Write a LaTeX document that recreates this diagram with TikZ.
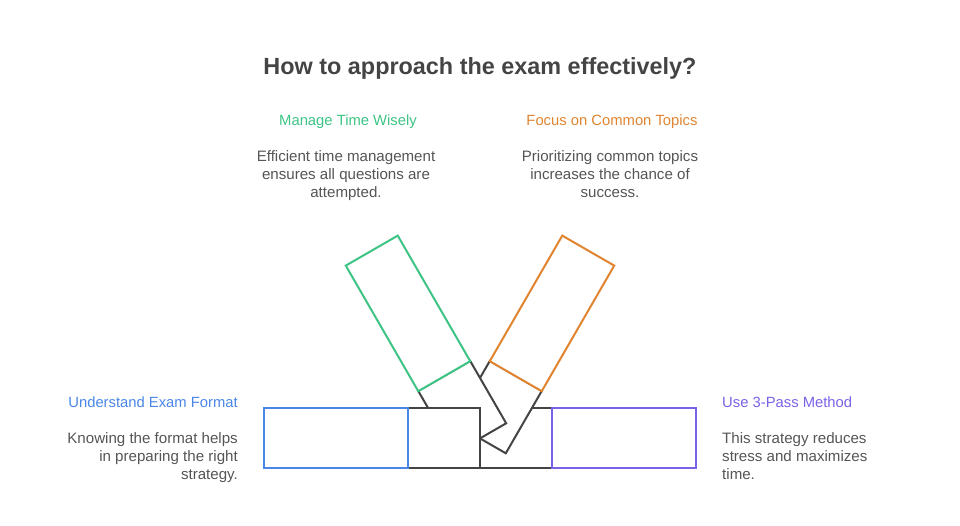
\documentclass[tikz,border=0pt]{standalone}
\usepackage{fontspec}
\setmainfont{Liberation Sans}
\definecolor{cgreen}{RGB}{61,196,132}
\definecolor{corange}{RGB}{224,132,48}
\definecolor{cblue}{RGB}{74,134,232}
\definecolor{cpurple}{RGB}{123,97,232}
\definecolor{cdark}{RGB}{68,68,68}
\definecolor{ctext}{RGB}{85,85,85}
\begin{document}
\begin{tikzpicture}[x=1pt,y=-1pt,
  box/.style={draw, fill=white, line width=2pt, inner sep=0pt, outer sep=0pt, rectangle},
  ttl/.style={font=\fontsize{14.8}{18}\selectfont, inner sep=0pt},
  desc/.style={font=\fontsize{15.1}{18}\selectfont, text=ctext, inner sep=0pt}]
\useasboundingbox (0,0) rectangle (960,525);
% title
\node[font=\bfseries\fontsize{23.4}{28}\selectfont, text=cdark, inner sep=0pt] (title) at (480,68) {How to approach the exam effectively?};
% boxes in stacking order
\node[box, draw=cdark, minimum width=72pt, minimum height=60pt] (rdark) at (516,438) {};
\node[box, draw=cdark, minimum width=72pt, minimum height=60pt, rotate=60] (odark) at (497.8,407.1) {};
\node[box, draw=corange, minimum width=145pt, minimum height=60pt, rotate=60] (obox) at (552,313.4) {};
\node[box, draw=cdark, minimum width=72pt, minimum height=60pt, rotate=-60] (gdark) at (462.2,407.1) {};
\node[box, draw=cgreen, minimum width=145pt, minimum height=60pt, rotate=-60] (gbox) at (408,313.4) {};
\node[box, draw=cdark, minimum width=72pt, minimum height=60pt] (ldark) at (444,438) {};
\node[box, draw=cblue, minimum width=144pt, minimum height=60pt] (bbox) at (336,438) {};
\node[box, draw=cpurple, minimum width=144pt, minimum height=60pt] (pbox) at (624,438) {};
% texts
\node[ttl, text=cgreen] (gt) at (348,122) {Manage Time Wisely};
\node[desc, align=center, anchor=north] (gd) at (346,150) {Efficient time management\\ensures all questions are\\attempted.};
\node[ttl, text=corange] (ot) at (612,122) {Focus on Common Topics};
\node[desc, align=center, anchor=north] (od) at (610,150) {Prioritizing common topics\\increases the chance of\\success.};
\node[ttl, text=cblue, anchor=east] (bt) at (238,402) {Understand Exam Format};
\node[desc, align=right, anchor=north east] (bd) at (238,432) {Knowing the format helps\\in preparing the right\\strategy.};
\node[ttl, text=cpurple, anchor=west] (pt) at (722,402) {Use 3-Pass Method};
\node[desc, align=left, anchor=north west] (pd) at (722,432) {This strategy reduces\\stress and maximizes\\time.};
\end{tikzpicture}
\end{document}
